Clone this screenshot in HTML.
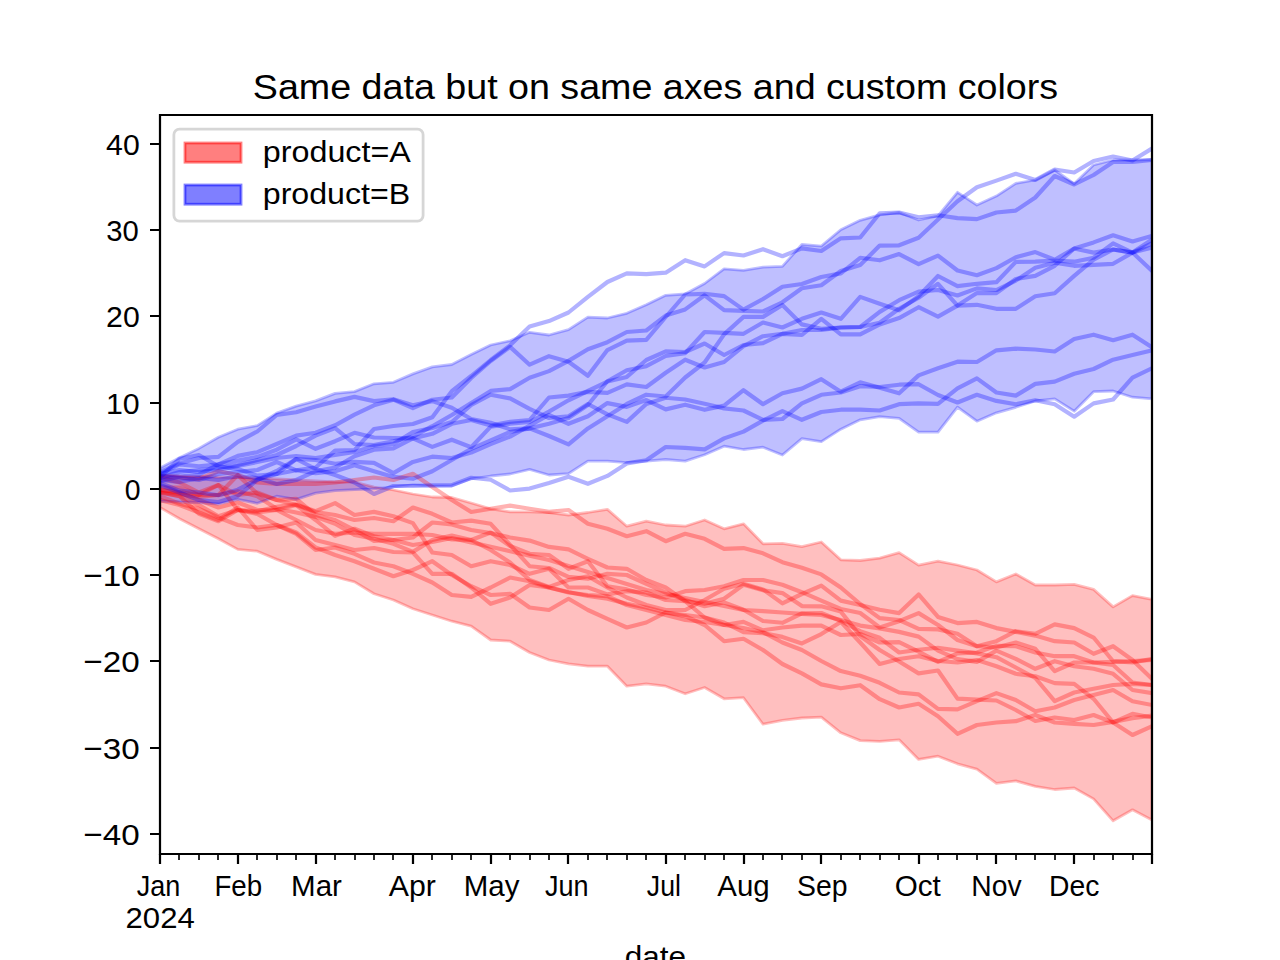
<!DOCTYPE html>
<html><head><meta charset="utf-8"><title>chart</title><style>html,body{margin:0;padding:0;background:#fff}body{width:1280px;height:960px;overflow:hidden}svg{display:block}text{font-family:"Liberation Sans",sans-serif;fill:#000}</style></head><body>
<svg width="1280" height="960" viewBox="0 0 1280 960">
<defs><clipPath id="ax"><rect x="160" y="115.2" width="992" height="739.2"/></clipPath></defs>
<rect x="0" y="0" width="1280" height="960" fill="#fff"/>
<g clip-path="url(#ax)">
<path d="M160 475 L179.5 476 L198.9 476.5 L218.4 477 L237.8 477.5 L257.3 478 L276.7 479 L296.2 480 L315.6 481 L335.1 482 L354.5 482 L374 487 L393.4 490 L412.9 494 L432.3 497 L451.8 497.5 L471.2 503 L490.7 508.8 L510.1 511.9 L529.6 511.9 L549 512.5 L568.5 515 L587.9 512.5 L607.4 509.4 L626.8 526.2 L646.3 521.2 L665.7 525 L685.2 526.2 L704.6 520 L724.1 528.8 L743.5 523.8 L763 543.8 L782.4 543.4 L801.9 546.7 L821.3 542 L840.8 559.8 L860.2 560.5 L879.7 558.1 L899.1 552.7 L918.6 565.2 L938 561.2 L957.5 565 L976.9 570 L996.4 581.9 L1015.8 574 L1035.3 585 L1054.7 585 L1074.2 584.4 L1093.6 589.4 L1113.1 606.9 L1132.5 595.6 L1152 599.4 L1152 820 L1132.5 809.8 L1113.1 820.8 L1093.6 798.9 L1074.2 788 L1054.7 789.5 L1035.3 786.4 L1015.8 780.9 L996.4 783.3 L976.9 769.2 L957.5 763.8 L938 756.2 L918.6 759.4 L899.1 739.8 L879.7 741.4 L860.2 740.6 L840.8 732.8 L821.3 717.2 L801.9 718 L782.4 720.3 L763 724.2 L743.5 697.7 L724.1 698.8 L704.6 687.5 L685.2 693.8 L665.7 686.2 L646.3 683.8 L626.8 686.2 L607.4 666.2 L587.9 666.2 L568.5 663.8 L549 660 L529.6 652.5 L510.1 641.2 L490.7 640 L471.2 626.2 L451.8 621.2 L432.3 615 L412.9 608.8 L393.4 600 L374 593.8 L354.5 581.9 L335.1 576.9 L315.6 574.4 L296.2 566.9 L276.7 559.4 L257.3 551.2 L237.8 549.4 L218.4 538.8 L198.9 528.8 L179.5 518.8 L160 507.5 Z" fill="#f00" fill-opacity="0.25" stroke="#f00" stroke-opacity="0.25" stroke-width="2.778" stroke-linejoin="round"/>
<path d="M160 468.1 L179.5 457.8 L198.9 448.4 L218.4 437.2 L237.8 429.2 L257.3 425.6 L276.7 413.1 L296.2 406.1 L315.6 400.9 L335.1 393.4 L354.5 391.6 L374 383.8 L393.4 382.3 L412.9 373.9 L432.3 366.9 L451.8 364.5 L471.2 354.4 L490.7 345 L510.1 340.8 L529.6 332.3 L549 335 L568.5 329.7 L587.9 317.2 L607.4 318 L626.8 313.3 L646.3 304.7 L665.7 295.3 L685.2 294 L704.6 283.5 L724.1 268.8 L743.5 270.3 L763 267.2 L782.4 266.4 L801.9 244.5 L821.3 246.1 L840.8 229.7 L860.2 220.3 L879.7 214.8 L899.1 212.5 L918.6 220 L938 216 L957.5 192.3 L976.9 205 L996.4 196.1 L1015.8 183.4 L1035.3 180 L1054.7 170 L1074.2 183.8 L1093.6 165 L1113.1 160 L1132.5 160 L1152 159.5 L1152 398.8 L1132.5 397.2 L1113.1 391 L1093.6 391.7 L1074.2 411.2 L1054.7 398.8 L1035.3 401 L1015.8 407.3 L996.4 412.8 L976.9 421.2 L957.5 407.1 L938 432.1 L918.6 432.1 L899.1 418.3 L879.7 416.7 L860.2 419.8 L840.8 429.2 L821.3 441.7 L801.9 438.6 L782.4 455 L763 447.2 L743.5 449.5 L724.1 446.2 L704.6 454.8 L685.2 461.1 L665.7 459.5 L646.3 461.1 L626.8 462.7 L607.4 461.1 L587.9 461.1 L568.5 473.6 L549 475 L529.6 469.4 L510.1 474 L490.7 476 L471.2 478.8 L451.8 485.8 L432.3 486.2 L412.9 485 L393.4 486.9 L374 488.8 L354.5 489.7 L335.1 490.6 L315.6 493.1 L296.2 499.4 L276.7 496.2 L257.3 503.3 L237.8 499.4 L218.4 504 L198.9 502.5 L179.5 502 L160 501 Z" fill="#00f" fill-opacity="0.25" stroke="#00f" stroke-opacity="0.25" stroke-width="2.778" stroke-linejoin="round"/>
<g fill="none" stroke="#f00" stroke-opacity="0.3" stroke-width="4.167" stroke-linecap="square" stroke-linejoin="round">
<polyline points="160,492.5 179.5,496.2 198.9,513.8 218.4,521.2 237.8,510 257.3,512.5 276.7,510 296.2,520 315.6,530 335.1,533.8 354.5,532.5 374,533.8 393.4,533.8 412.9,533.8 432.3,535 451.8,539.4 471.2,540 490.7,532.5 510.1,546 529.6,553.8 549,555 568.5,568.8 587.9,561.2 607.4,586.2 626.8,589.4 646.3,595 665.7,597.5 685.2,591.2 704.6,590 724.1,586.2 743.5,580 763,580 782.4,584.7 801.9,592.2 821.3,600.6 840.8,609 860.2,613 879.7,627.5 899.1,621.2 918.6,613.1 938,625 957.5,640 976.9,646.2 996.4,641.2 1015.8,631.2 1035.3,633.8 1054.7,624.4 1074.2,628.1 1093.6,637.5 1113.1,661.2 1132.5,662.5 1152,658.8"/>
<polyline points="160,492 179.5,494 198.9,497 218.4,495 237.8,491.2 257.3,496.2 276.7,508.8 296.2,512.5 315.6,516.9 335.1,523.8 354.5,535 374,538.8 393.4,543.8 412.9,551.9 432.3,540 451.8,535.6 471.2,540 490.7,550 510.1,562.5 529.6,580 549,586.9 568.5,580 587.9,576.2 607.4,587.5 626.8,597.5 646.3,605 665.7,610 685.2,610 704.6,600 724.1,588.8 743.5,583.8 763,589.4 782.4,603.4 801.9,594 821.3,585.6 840.8,600.6 860.2,605 879.7,609.7 899.1,613.1 918.6,594.4 938,616.9 957.5,623.1 976.9,621.9 996.4,628.1 1015.8,631.9 1035.3,635.6 1054.7,641.2 1074.2,642.5 1093.6,653.8 1113.1,646.2 1132.5,660 1152,678.8"/>
<polyline points="160,476.2 179.5,477.5 198.9,478.8 218.4,471.2 237.8,475 257.3,482.5 276.7,483.8 296.2,483.8 315.6,483.8 335.1,482.5 354.5,480 374,477.5 393.4,480 412.9,473.8 432.3,487 451.8,500 471.2,512 490.7,508.8 510.1,505.6 529.6,508.8 549,511.9 568.5,510 587.9,523.8 607.4,528.8 626.8,536.2 646.3,531.2 665.7,541.2 685.2,533.8 704.6,538.8 724.1,548.8 743.5,548.1 763,553.3 782.4,562.2 801.9,567.8 821.3,574.4 840.8,587.5 860.2,604 879.7,618.1 899.1,620 918.6,628.8 938,629.4 957.5,633.8 976.9,646.2 996.4,647.5 1015.8,642.5 1035.3,648.8 1054.7,671.2 1074.2,662.5 1093.6,662.5 1113.1,661.9 1132.5,661.2 1152,660"/>
<polyline points="160,500 179.5,505 198.9,512.5 218.4,520 237.8,507.5 257.3,530 276.7,527.5 296.2,522.5 315.6,540 335.1,545 354.5,550 374,548 393.4,552 412.9,552.5 432.3,573.8 451.8,573.8 471.2,587.5 490.7,603.8 510.1,597.5 529.6,585 549,587.5 568.5,592 587.9,596 607.4,598.8 626.8,603.8 646.3,607.5 665.7,612.5 685.2,615 704.6,617.5 724.1,625 743.5,621.9 763,630.3 782.4,627.5 801.9,625.6 821.3,625.6 840.8,635 860.2,634 879.7,642.5 899.1,642.2 918.6,651.6 938,661.9 957.5,653.4 976.9,652.5 996.4,645.9 1015.8,646.2 1035.3,652.5 1054.7,656.2 1074.2,656.2 1093.6,662.5 1113.1,665 1132.5,682.5 1152,685"/>
<polyline points="160,490 179.5,492.5 198.9,500 218.4,507.5 237.8,502.5 257.3,510 276.7,510 296.2,505 315.6,520 335.1,535.8 354.5,528.8 374,536.2 393.4,540 412.9,545 432.3,542 451.8,538 471.2,542.4 490.7,546.8 510.1,551.2 529.6,555.6 549,560 568.5,566 587.9,572 607.4,578 626.8,584 646.3,590 665.7,594 685.2,598 704.6,602 724.1,606 743.5,610 763,611.2 782.4,612.5 801.9,613.8 821.3,615 840.8,620 860.2,625.6 879.7,628.4 899.1,631.9 918.6,636.6 938,650.6 957.5,659.1 976.9,661.9 996.4,650.6 1015.8,658.8 1035.3,668.8 1054.7,661.2 1074.2,666.2 1093.6,668.8 1113.1,673.8 1132.5,690 1152,693.1"/>
<polyline points="160,496.2 179.5,503.8 198.9,508.8 218.4,517.5 237.8,525 257.3,527.5 276.7,525 296.2,533.8 315.6,550 335.1,547.5 354.5,553.8 374,562.5 393.4,566.2 412.9,573.8 432.3,582.5 451.8,595 471.2,596.9 490.7,587.5 510.1,577.5 529.6,581.2 549,587.5 568.5,592.5 587.9,595 607.4,596.2 626.8,605 646.3,610 665.7,615 685.2,620 704.6,622 724.1,625 743.5,628 763,632.2 782.4,642.5 801.9,650 821.3,661 840.8,671.1 860.2,675.8 879.7,682.8 899.1,692.5 918.6,694.4 938,708.8 957.5,709.4 976.9,701.2 996.4,693.1 1015.8,700 1035.3,711.2 1054.7,707.5 1074.2,700 1093.6,695 1113.1,690 1132.5,701.2 1152,705"/>
<polyline points="160,490 179.5,492 198.9,495 218.4,495 237.8,475 257.3,493.8 276.7,500 296.2,498.8 315.6,515 335.1,520 354.5,530 374,541 393.4,540 412.9,537.5 432.3,522.5 451.8,524.4 471.2,530 490.7,533.1 510.1,537.5 529.6,540.6 549,546.9 568.5,549.4 587.9,558.8 607.4,567.5 626.8,568.8 646.3,580 665.7,587.5 685.2,601.2 704.6,617.5 724.1,622.5 743.5,632.2 763,633.1 782.4,636.9 801.9,643.4 821.3,634 840.8,621.9 860.2,642.5 879.7,664 899.1,659 918.6,656.2 938,661 957.5,662.5 976.9,660 996.4,666.2 1015.8,673.8 1035.3,676.2 1054.7,683.1 1074.2,683.8 1093.6,698.8 1113.1,722.5 1132.5,735 1152,726.2"/>
<polyline points="160,487.5 179.5,487.5 198.9,495 218.4,485 237.8,495 257.3,492.5 276.7,500 296.2,505 315.6,512 335.1,515 354.5,520 374,518 393.4,521.2 412.9,507.5 432.3,513.8 451.8,522.5 471.2,520.6 490.7,523.8 510.1,545 529.6,566.2 549,568 568.5,576.9 587.9,578.8 607.4,573.8 626.8,575 646.3,583.8 665.7,592.5 685.2,600 704.6,606.2 724.1,602.5 743.5,609.7 763,621 782.4,622.8 801.9,613.4 821.3,613 840.8,621 860.2,631.2 879.7,637.8 899.1,652.5 918.6,649.7 938,647.8 957.5,650.6 976.9,653.4 996.4,657.2 1015.8,667.5 1035.3,678 1054.7,701.2 1074.2,692.5 1093.6,688.8 1113.1,685 1132.5,683.8 1152,685"/>
<polyline points="160,477.5 179.5,482.5 198.9,492.5 218.4,485 237.8,510 257.3,511.2 276.7,506.9 296.2,504.4 315.6,511.2 335.1,503.1 354.5,515 374,511.9 393.4,516.2 412.9,523.1 432.3,552.5 451.8,555 471.2,566.2 490.7,561.2 510.1,565 529.6,573.8 549,568.8 568.5,587.5 587.9,587.5 607.4,594.4 626.8,591.2 646.3,592.5 665.7,600 685.2,601.2 704.6,603.8 724.1,598.8 743.5,584.7 763,590.3 782.4,593.1 801.9,606.1 821.3,606.3 840.8,611.6 860.2,636 879.7,650 899.1,661.5 918.6,673.4 938,670.5 957.5,698.6 976.9,699.7 996.4,700.5 1015.8,710 1035.3,721 1054.7,717.5 1074.2,720 1093.6,715 1113.1,722.5 1132.5,713.8 1152,717.5"/>
<polyline points="160,492.5 179.5,496 198.9,505 218.4,516.2 237.8,510 257.3,514 276.7,525 296.2,532.5 315.6,547.5 335.1,555 354.5,561.2 374,568.8 393.4,576.2 412.9,570 432.3,561.2 451.8,575 471.2,586.2 490.7,595 510.1,593.8 529.6,607.5 549,610 568.5,598.8 587.9,610 607.4,618.8 626.8,627.5 646.3,622.5 665.7,612.5 685.2,616.2 704.6,625 724.1,641.2 743.5,638.8 763,650 782.4,664 801.9,673.4 821.3,684.4 840.8,688.3 860.2,685.2 879.7,699.2 899.1,707.5 918.6,703.8 938,716.2 957.5,733.8 976.9,725 996.4,722.5 1015.8,721.2 1035.3,715 1054.7,722.5 1074.2,723.8 1093.6,725 1113.1,721.9 1132.5,718.1 1152,715.6"/>
</g>
<g fill="none" stroke="#00f" stroke-opacity="0.3" stroke-width="4.167" stroke-linecap="square" stroke-linejoin="round">
<polyline points="160,478 179.5,472 198.9,470 218.4,468 237.8,465 257.3,460 276.7,455 296.2,446 315.6,435.6 335.1,428.1 354.5,444 374,445 393.4,441.2 412.9,436.6 432.3,426.2 451.8,415 471.2,403.1 490.7,390.9 510.1,389.1 529.6,377.8 549,371.1 568.5,360.9 587.9,349.2 607.4,342.2 626.8,332 646.3,330.5 665.7,315.6 685.2,309.4 704.6,295.3 724.1,310.2 743.5,310.9 763,311.5 782.4,302.3 801.9,288.3 821.3,285.2 840.8,271 860.2,265 879.7,245.6 899.1,245.3 918.6,237.8 938,219.5 957.5,201.2 976.9,187.2 996.4,180.6 1015.8,173.8 1035.3,180 1054.7,169.5 1074.2,172.5 1093.6,161 1113.1,156.5 1132.5,160.5 1152,148.5"/>
<polyline points="160,476 179.5,478 198.9,480 218.4,474 237.8,472 257.3,470 276.7,462 296.2,470.3 315.6,467.5 335.1,450.6 354.5,450.2 374,429 393.4,426 412.9,424 432.3,417.2 451.8,391.2 471.2,376 490.7,360 510.1,345.3 529.6,326.6 549,321.1 568.5,312.5 587.9,296.9 607.4,282 626.8,273.4 646.3,274.2 665.7,272.7 685.2,260.2 704.6,266.4 724.1,253.1 743.5,255.5 763,249.2 782.4,256.2 801.9,248.4 821.3,251 840.8,238.3 860.2,237.5 879.7,213.3 899.1,212.5 918.6,217.2 938,215.3 957.5,218.1 976.9,219.1 996.4,212.5 1015.8,210.6 1035.3,197.5 1054.7,176 1074.2,184.5 1093.6,175 1113.1,161.9 1132.5,162 1152,160"/>
<polyline points="160,473.8 179.5,464.4 198.9,466.2 218.4,464.4 237.8,455.9 257.3,452.2 276.7,444 296.2,435.6 315.6,432.8 335.1,425.3 354.5,414.7 374,405.3 393.4,399.7 412.9,408.1 432.3,399.7 451.8,397.5 471.2,378 490.7,361 510.1,346.9 529.6,364.7 549,356.2 568.5,361.7 587.9,375.8 607.4,350 626.8,340.6 646.3,339.8 665.7,317 685.2,294.5 704.6,293.8 724.1,296.1 743.5,309.6 763,299 782.4,286.8 801.9,284 821.3,277 840.8,273.4 860.2,257.8 879.7,260.3 899.1,254.1 918.6,264.2 938,255.6 957.5,270.5 976.9,275.2 996.4,268.1 1015.8,257.2 1035.3,252.1 1054.7,259.7 1074.2,248.5 1093.6,242.4 1113.1,235.3 1132.5,241.4 1152,235.8"/>
<polyline points="160,483 179.5,490.6 198.9,492.5 218.4,495.3 237.8,489.7 257.3,479.4 276.7,474 296.2,470.3 315.6,473.1 335.1,471.2 354.5,465.2 374,471.2 393.4,476.9 412.9,478.8 432.3,471.2 451.8,460 471.2,448.8 490.7,440.3 510.1,432 529.6,428.4 549,423.8 568.5,418 587.9,405 607.4,381.2 626.8,370.3 646.3,366.2 665.7,356 685.2,353.1 704.6,332 724.1,332.8 743.5,333.8 763,322.5 782.4,327.5 801.9,318.8 821.3,312.5 840.8,318.8 860.2,296.9 879.7,303.8 899.1,310.3 918.6,296.2 938,276 957.5,286.1 976.9,283.8 996.4,282.2 1015.8,261.9 1035.3,261.7 1054.7,260.7 1074.2,261.7 1093.6,257.7 1113.1,243.4 1132.5,252.6 1152,239.4"/>
<polyline points="160,471.9 179.5,463.4 198.9,458 218.4,456.9 237.8,441.9 257.3,431.5 276.7,415 296.2,412.2 315.6,406.6 335.1,401.4 354.5,396.9 374,401.1 393.4,399.2 412.9,405.3 432.3,401.1 451.8,407.8 471.2,419 490.7,422.8 510.1,429.4 529.6,428.4 549,436 568.5,444.4 587.9,428.4 607.4,416.2 626.8,404 646.3,394.7 665.7,396.5 685.2,377.5 704.6,362.5 724.1,334.4 743.5,316.9 763,316.9 782.4,305 801.9,324.4 821.3,328.8 840.8,327.5 860.2,327 879.7,311.9 899.1,300.2 918.6,291.6 938,290 957.5,295.5 976.9,288.4 996.4,290 1015.8,280.6 1035.3,267.8 1054.7,262.7 1074.2,265.8 1093.6,264.8 1113.1,263.8 1132.5,252.6 1152,247.5"/>
<polyline points="160,481.2 179.5,476.6 198.9,474.7 218.4,464.4 237.8,460.6 257.3,456.9 276.7,449.7 296.2,439.4 315.6,448.8 335.1,441.2 354.5,432.8 374,437.5 393.4,438 412.9,438.4 432.3,446.9 451.8,439.7 471.2,447.2 490.7,426.6 510.1,423.8 529.6,422 549,411.6 568.5,400.3 587.9,391 607.4,381.6 626.8,376.9 646.3,360 665.7,351.4 685.2,352 704.6,343.5 724.1,355 743.5,345 763,343.1 782.4,333.8 801.9,335 821.3,318.8 840.8,334.4 860.2,334.4 879.7,324.4 899.1,318.1 918.6,307.2 938,316.6 957.5,305.6 976.9,293.1 996.4,293.1 1015.8,279 1035.3,275.9 1054.7,265.8 1074.2,248.5 1093.6,252.6 1113.1,249.5 1132.5,252.6 1152,270.9"/>
<polyline points="160,480 179.5,482 198.9,478 218.4,480 237.8,476 257.3,478 276.7,484 296.2,480 315.6,471.2 335.1,467.5 354.5,456.2 374,449.7 393.4,448.3 412.9,438.4 432.3,433.8 451.8,423.8 471.2,420 490.7,425.6 510.1,421.9 529.6,420 549,397.5 568.5,395.6 587.9,391.9 607.4,392.8 626.8,384.4 646.3,387 665.7,372.8 685.2,359.7 704.6,367.5 724.1,362 743.5,346.2 763,336.2 782.4,333.8 801.9,330 821.3,330 840.8,327.5 860.2,327 879.7,322.8 899.1,308.8 918.6,297.8 938,283.8 957.5,305.6 976.9,304.8 996.4,308.8 1015.8,308.8 1035.3,296.3 1054.7,293.2 1074.2,275.9 1093.6,259.7 1113.1,249.5 1132.5,252.6 1152,243.4"/>
<polyline points="160,477.5 179.5,458.8 198.9,455 218.4,466.2 237.8,469 257.3,475.6 276.7,474 296.2,459 315.6,460 335.1,463.8 354.5,461.9 374,462.8 393.4,473.1 412.9,461.9 432.3,456.7 451.8,458.1 471.2,452.5 490.7,444 510.1,436.6 529.6,425.6 549,414.8 568.5,423.8 587.9,416.2 607.4,403.1 626.8,406.9 646.3,400 665.7,409.4 685.2,404.7 704.6,409.8 724.1,405.6 743.5,390.2 763,404.2 782.4,393.3 801.9,388.6 821.3,379.2 840.8,391.7 860.2,382.3 879.7,387.8 899.1,393.3 918.6,375.4 938,368.3 957.5,361.7 976.9,362 996.4,350.3 1015.8,348.7 1035.3,349.5 1054.7,351.5 1074.2,339 1093.6,334.7 1113.1,340.2 1132.5,334.7 1152,347.2"/>
<polyline points="160,485 179.5,492.5 198.9,500 218.4,502 237.8,496 257.3,480 276.7,471 296.2,459 315.6,469 335.1,475 354.5,482.5 374,494 393.4,486 412.9,486 432.3,485.3 451.8,485.3 471.2,477.8 490.7,479.7 510.1,490.5 529.6,488.6 549,483 568.5,476.7 587.9,483.8 607.4,475.9 626.8,463.4 646.3,460.3 665.7,447 685.2,447.8 704.6,449.4 724.1,438.4 743.5,431.6 763,420.6 782.4,411.2 801.9,419.8 821.3,412 840.8,409.7 860.2,409.7 879.7,410.5 899.1,404.2 918.6,403.3 938,403.8 957.5,388.3 976.9,378.4 996.4,392.5 1015.8,395.6 1035.3,383.9 1054.7,381.6 1074.2,373.8 1093.6,369 1113.1,359.7 1132.5,355 1152,350.3"/>
<polyline points="160,474 179.5,470 198.9,472 218.4,470 237.8,466 257.3,462 276.7,458 296.2,456 315.6,458 335.1,455 354.5,452 374,446 393.4,444 412.9,432 432.3,428 451.8,422 471.2,405 490.7,394.7 510.1,398.4 529.6,408.8 549,418 568.5,416.2 587.9,404 607.4,414.4 626.8,421.9 646.3,404 665.7,397.7 685.2,399.5 704.6,403.8 724.1,408.4 743.5,410.5 763,419.8 782.4,419 801.9,403.4 821.3,394.8 840.8,392.5 860.2,386.2 879.7,387 899.1,384.7 918.6,384.2 938,395 957.5,402.5 976.9,394.8 996.4,400.9 1015.8,404.2 1035.3,400.3 1054.7,404.2 1074.2,416.7 1093.6,403.4 1113.1,399.5 1132.5,377.7 1152,368.3"/>
</g>
</g>
<path d="M160 854 V115 M1152 854 V115 M160 854 H1152 M160 115 H1152" stroke="#000" stroke-width="2.222" stroke-linecap="square" stroke-linejoin="miter" fill="none"/>
<path d="M160 854 V864 M238 854 V864 M316 854 V864 M413 854 V864 M491 854 V864 M568 854 V864 M666 854 V864 M744 854 V864 M821 854 V864 M919 854 V864 M996 854 V864 M1074 854 V864 M1152 854 V864" stroke="#000" stroke-width="2.222"/>
<path d="M179 854 V860 M199 854 V860 M218 854 V860 M257 854 V860 M277 854 V860 M296 854 V860 M335 854 V860 M355 854 V860 M374 854 V860 M393 854 V860 M432 854 V860 M452 854 V860 M471 854 V860 M510 854 V860 M530 854 V860 M549 854 V860 M588 854 V860 M607 854 V860 M627 854 V860 M646 854 V860 M685 854 V860 M705 854 V860 M724 854 V860 M763 854 V860 M782 854 V860 M802 854 V860 M841 854 V860 M860 854 V860 M880 854 V860 M899 854 V860 M938 854 V860 M957 854 V860 M977 854 V860 M1016 854 V860 M1035 854 V860 M1055 854 V860 M1094 854 V860 M1113 854 V860 M1133 854 V860" stroke="#000" stroke-width="1.667"/>
<path d="M160 834 H150 M160 748 H150 M160 661 H150 M160 575 H150 M160 489 H150 M160 403 H150 M160 316 H150 M160 230 H150 M160 144 H150" stroke="#000" stroke-width="2.222"/>
<text x="136.8" y="895.6" font-size="30.4" textLength="43.6" lengthAdjust="spacingAndGlyphs">Jan</text>
<text x="125.6" y="927.5" font-size="30.4" textLength="69.1" lengthAdjust="spacingAndGlyphs">2024</text>
<text x="238.3" y="895.6" font-size="30.4" text-anchor="middle" textLength="47.7" lengthAdjust="spacingAndGlyphs">Feb</text>
<text x="316.5" y="895.6" font-size="30.4" text-anchor="middle" textLength="50.8" lengthAdjust="spacingAndGlyphs">Mar</text>
<text x="412.4" y="895.6" font-size="30.4" text-anchor="middle" textLength="47.1" lengthAdjust="spacingAndGlyphs">Apr</text>
<text x="491.6" y="895.6" font-size="30.4" text-anchor="middle" textLength="55.6" lengthAdjust="spacingAndGlyphs">May</text>
<text x="566.7" y="895.6" font-size="30.4" text-anchor="middle" textLength="43.6" lengthAdjust="spacingAndGlyphs">Jun</text>
<text x="663.9" y="895.6" font-size="30.4" text-anchor="middle" textLength="34.1" lengthAdjust="spacingAndGlyphs">Jul</text>
<text x="743.5" y="895.6" font-size="30.4" text-anchor="middle" textLength="52.4" lengthAdjust="spacingAndGlyphs">Aug</text>
<text x="822.3" y="895.6" font-size="30.4" text-anchor="middle" textLength="50.5" lengthAdjust="spacingAndGlyphs">Sep</text>
<text x="917.7" y="895.6" font-size="30.4" text-anchor="middle" textLength="46.1" lengthAdjust="spacingAndGlyphs">Oct</text>
<text x="996.4" y="895.6" font-size="30.4" text-anchor="middle" textLength="50.3" lengthAdjust="spacingAndGlyphs">Nov</text>
<text x="1074.2" y="895.6" font-size="30.4" text-anchor="middle" textLength="50.3" lengthAdjust="spacingAndGlyphs">Dec</text>
<text x="139.7" y="845" font-size="30.402028392180497" text-anchor="end" textLength="56.3" lengthAdjust="spacingAndGlyphs">−40</text>
<text x="139.7" y="758.8" font-size="30.402028392180497" text-anchor="end" textLength="56.3" lengthAdjust="spacingAndGlyphs">−30</text>
<text x="139.7" y="671.8" font-size="30.402028392180497" text-anchor="end" textLength="56.3" lengthAdjust="spacingAndGlyphs">−20</text>
<text x="139.7" y="585.6" font-size="30.402028392180497" text-anchor="end" textLength="56.3" lengthAdjust="spacingAndGlyphs">−10</text>
<text x="140.6" y="500" font-size="30.402028392180497" text-anchor="end" textLength="15.8" lengthAdjust="spacingAndGlyphs">0</text>
<text x="139.7" y="413.8" font-size="30.402028392180497" text-anchor="end" textLength="33.7" lengthAdjust="spacingAndGlyphs">10</text>
<text x="139.7" y="326.8" font-size="30.402028392180497" text-anchor="end" textLength="33.6" lengthAdjust="spacingAndGlyphs">20</text>
<text x="138.8" y="240.6" font-size="30.402028392180497" text-anchor="end" textLength="32.5" lengthAdjust="spacingAndGlyphs">30</text>
<text x="139.7" y="155" font-size="30.402028392180497" text-anchor="end" textLength="33.6" lengthAdjust="spacingAndGlyphs">40</text>
<text x="655.5" y="966.8" font-size="30.4" text-anchor="middle" textLength="61.3" lengthAdjust="spacingAndGlyphs">date</text>
<text x="655.5" y="98.5" font-size="34.3" text-anchor="middle" textLength="805.3" lengthAdjust="spacingAndGlyphs">Same data but on same axes and custom colors</text>
<rect x="173.9" y="129.1" width="249.2" height="92.1" rx="5.6" ry="5.6" fill="#fff" fill-opacity="0.8" stroke="#ccc" stroke-opacity="0.8" stroke-width="2.778"/>
<rect x="185" y="143" width="56" height="19.2" fill="#f00" fill-opacity="0.5" stroke="#f00" stroke-opacity="0.5" stroke-width="2.778"/>
<rect x="185" y="185" width="56" height="19.2" fill="#00f" fill-opacity="0.5" stroke="#00f" stroke-opacity="0.5" stroke-width="2.778"/>
<text x="262.8" y="162" font-size="29.806824732407595" textLength="148" lengthAdjust="spacingAndGlyphs">product=A</text>
<text x="262.8" y="203.5" font-size="29.806824732407595" textLength="147.3" lengthAdjust="spacingAndGlyphs">product=B</text>
</svg></body></html>
